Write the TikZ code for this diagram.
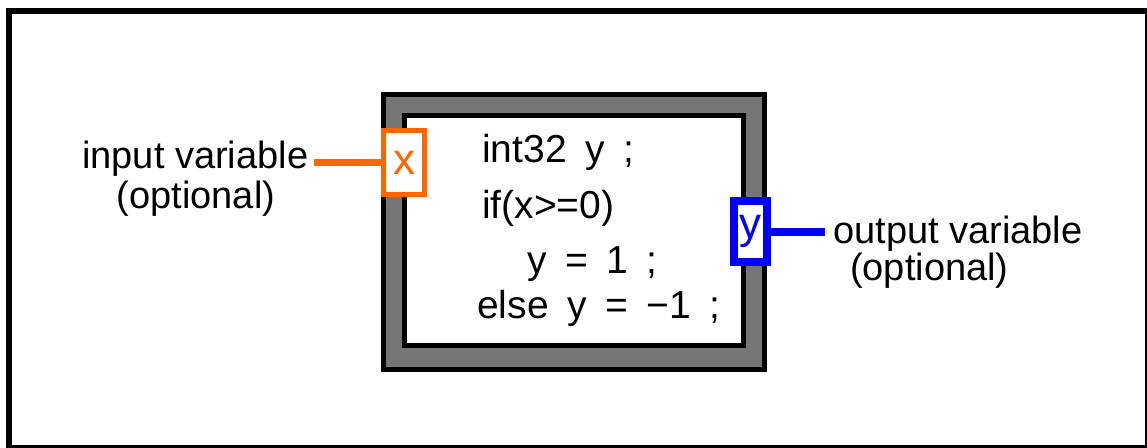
\documentclass[tikz,border=0pt]{standalone}
\usepackage{fontspec}
\setmainfont{Liberation Sans}
\newfontfamily\codefont{Liberation Sans}[WordSpace=1.7]

\definecolor{wireorange}{RGB}{255,102,0}
\definecolor{wireblue}{RGB}{0,0,255}
\definecolor{framegrey}{RGB}{118,118,118}

\begin{document}
\begin{tikzpicture}[x=1pt,y=-1pt,
    lbl/.style={inner sep=0pt, font=\fontsize{38}{44}\selectfont},
    code/.style={inner sep=0pt, anchor=base west, font=\codefont\fontsize{39}{44}\selectfont},
    term/.style={draw, fill=white, inner sep=0pt, font=\fontsize{44}{50}\selectfont}]
      \useasboundingbox (0,0) rectangle (1147,447);
      \draw[line width=6pt] (9,11) rectangle (1148,447.5); %outer frame

      %formula node with grey border
      \fill[black] (381,92) rectangle (767,372);
      \fill[framegrey] (386,97) rectangle (762,367);
      \fill[black] (402,113) rectangle (746,348);
      \fill[white] (407,118) rectangle (741,343);

      %terminals
      \node[term, draw=wireorange, text=wireorange, line width=5pt,
        minimum width=41pt, minimum height=64pt] (xterm) at (404,162.5) {x};
      \node[term, draw=wireblue, text=wireblue, line width=8pt,
        minimum width=33pt, minimum height=61pt] (yterm) at (750.5,231.5) {y};

      %code lines
      \node[code] (decl) at (482,162) {int32 y ;};
      \node[code] (test) at (482,218) {if(x>=0)};
      \node[code] (thenpart) at (527,273) {y = 1 ;};
      \node[code] (elsepart) at (477,318) {else y = −1 ;};

      %draw labels
      \node[lbl, anchor=base west] (inname) at (82,168) {input variable};
      \node[lbl, anchor=base] (inopt) at (196,208) {(optional)};
      \node[lbl, anchor=base west] (outname) at (833,243) {output variable};
      \node[lbl, anchor=base west] (outopt) at (850,280) {(optional)};

      %draw wires
      \draw[wireorange, line width=7pt, shorten >=6pt] (xterm.west) -- (xterm.west -| inname.east);
      \draw[wireblue, line width=8pt, shorten >=8pt] (yterm.east) -- (yterm.east -| outname.west);
    \end{tikzpicture}
\end{document}
